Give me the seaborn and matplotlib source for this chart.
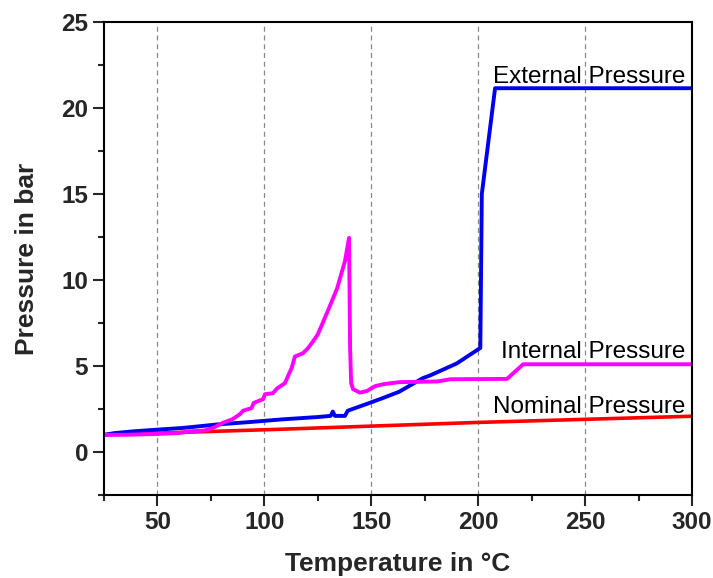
import matplotlib
matplotlib.use("Agg")
import matplotlib.pyplot as plt
import seaborn as sns
import pandas as pd
from matplotlib.ticker import MultipleLocator

# ---- data ----
ext_T = [25, 30, 38.6, 50, 62, 77.8, 93, 108.7, 124.6, 131, 132, 133, 137.7, 139,
         148, 154, 163, 174.2, 177.5, 190, 201, 201.7, 207.9, 300]
ext_P = [1.0, 1.1, 1.2, 1.3, 1.4, 1.6, 1.74, 1.9, 2.03, 2.1, 2.35, 2.1, 2.1, 2.4,
         2.8, 3.07, 3.5, 4.3, 4.45, 5.15, 6.05, 15.0, 21.15, 21.15]

int_T = [25, 35, 50, 60, 65, 72, 76, 80.7, 85, 88.6, 90, 94, 95, 99.4, 100.3, 104,
         106, 109.6, 112.8, 114.3, 118, 120.4, 122.8, 125, 129, 134, 137.7, 139.6,
         140.1, 140.6, 141.5, 144.7, 148, 151.8, 155.5, 163, 180.8, 187, 213.5, 221, 300]
int_P = [1.0, 1.0, 1.05, 1.1, 1.2, 1.25, 1.4, 1.7, 1.9, 2.2, 2.4, 2.55, 2.85, 3.07,
         3.36, 3.42, 3.7, 4.0, 4.9, 5.55, 5.74, 6.03, 6.44, 6.84, 8.0, 9.5, 11.1, 12.45,
         6.0, 4.0, 3.65, 3.45, 3.55, 3.83, 3.94, 4.06, 4.1, 4.23, 4.25, 5.1, 5.1]

nom_T = [25, 107, 200, 300]
nom_P = [1.0, 1.32, 1.72, 2.08]

labels = ["External Pressure", "Internal Pressure", "Nominal Pressure"]
label_pos = [(296.7, 21.46), (296.7, 5.45), (296.7, 2.26)]

x_ticks = [50, 100, 150, 200, 250, 300]
y_ticks = [0, 5, 10, 15, 20, 25]

# ---- plotting ----
sns.set_style("ticks")
plt.rcParams['font.family'] = ['Liberation Sans', 'DejaVu Sans']

fig = plt.figure(figsize=(7.13, 5.78), dpi=100)
ax = fig.add_axes([104/713, 1-495/578, (692-104)/713, (495-22)/578])

df_nom = pd.DataFrame({"T": nom_T, "P": nom_P})
df_ext = pd.DataFrame({"T": ext_T, "P": ext_P})
df_int = pd.DataFrame({"T": int_T, "P": int_P})

sns.lineplot(data=df_nom, x="T", y="P", ax=ax, color="#ff0000", lw=2.6, sort=False, estimator=None)
sns.lineplot(data=df_ext, x="T", y="P", ax=ax, color="#0000ee", lw=2.8, sort=False, estimator=None)
sns.lineplot(data=df_int, x="T", y="P", ax=ax, color="#ff00ff", lw=2.8, sort=False, estimator=None)

for txt, (tx, ty) in zip(labels, label_pos):
    ax.text(tx, ty, txt, ha="right", va="baseline", fontsize=17.5, color="black")

ax.set_xlim(25, 300)
ax.set_ylim(-2.5, 25)
ax.set_xticks(x_ticks)
ax.set_yticks(y_ticks)
ax.xaxis.set_minor_locator(MultipleLocator(25))
ax.yaxis.set_minor_locator(MultipleLocator(2.5))
ax.tick_params(which="major", direction="out", length=8, width=1.5, labelsize=17.5)
ax.tick_params(which="minor", direction="out", length=4, width=1.5)
ax.tick_params(top=False, right=False, which="both")
for lab in ax.get_xticklabels() + ax.get_yticklabels():
    lab.set_fontweight("bold")

for s in ax.spines.values():
    s.set_linewidth(1.5)
    s.set_color("black")

ax.grid(axis="x", which="major", linestyle=(0, (4, 3)), color="#888888", lw=0.9)
ax.grid(axis="y", visible=False)

ax.set_xlabel("Temperature in °C", fontsize=19, fontweight="bold", labelpad=13)
ax.set_ylabel("Pressure in bar", fontsize=19, fontweight="bold", labelpad=16)

fig.savefig("out.png", dpi=100)
